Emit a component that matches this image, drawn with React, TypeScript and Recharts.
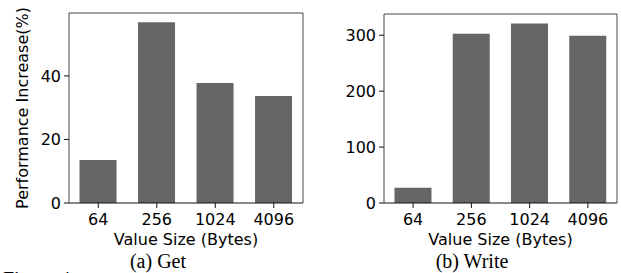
import React from 'react';
import { BarChart, Bar, XAxis, YAxis } from 'recharts';

const sizes = ['64', '256', '1024', '4096'];
const getIncrease = [13.5, 56.9, 37.8, 33.7];
const writeIncrease = [27.4, 302.9, 320.8, 299.3];
const getTicks = [0, 20, 40];
const writeTicks = [0, 100, 200, 300];

const getData = sizes.map((s, i) => ({ size: s, value: getIncrease[i] }));
const writeData = sizes.map((s, i) => ({ size: s, value: writeIncrease[i] }));

const FONT = 'DejaVu Sans, sans-serif';
const tickStyle = { fill: '#000', fontSize: 16, fontFamily: FONT };

const Panel = ({ data, ticks, domain, yWidth, margin, ylabel }: any) => (
    <BarChart width={margin.w} height={250} data={data} margin={margin.m} barCategoryGap="18%">
        <XAxis
            dataKey="size"
            height={47}
            tickSize={5}
            tickMargin={6}
            tick={tickStyle}
            axisLine={{ stroke: '#111', strokeWidth: 1 }}
            tickLine={{ stroke: '#111' }}
            label={{ value: 'Value Size (Bytes)', position: 'insideBottom', offset: 5, style: { fill: '#000', fontSize: 16, fontFamily: FONT } }}
        />
        {/* top and right spines */}
        <XAxis xAxisId="top" dataKey="size" orientation="top" height={1} tick={false} tickLine={false} axisLine={{ stroke: '#444' }} />
        <YAxis
            width={yWidth}
            domain={domain}
            ticks={ticks}
            tickSize={5}
            tickMargin={3}
            tick={tickStyle}
            axisLine={{ stroke: '#444' }}
            tickLine={{ stroke: '#111' }}
            allowDataOverflow
            label={ylabel ? { value: ylabel, angle: -90, position: 'insideLeft', offset: 22, textAnchor: 'middle', style: { textAnchor: 'middle', fill: '#000', fontSize: 16, fontFamily: FONT } } : undefined}
        />
        <YAxis yAxisId="right" orientation="right" width={1} domain={domain} tick={false} tickLine={false} axisLine={{ stroke: '#444' }} />
        <Bar dataKey="value" fill="#666666" isAnimationActive={false} />
    </BarChart>
);

const captionStyle: React.CSSProperties = {
    position: 'absolute',
    fontFamily: 'Liberation Serif, Times New Roman, serif',
    fontSize: 20,
    lineHeight: '20px',
    color: '#000',
    whiteSpace: 'nowrap',
    transform: 'translateX(-50%)',
};

export default function App() {
    return (
        <div style={{ position: 'relative', width: 621, height: 273, overflow: 'hidden', background: '#fff' }}>
            <style>{'body { margin: 0; }'}</style>
            <div style={{ position: 'absolute', left: 0, top: 0 }}>
                <Panel
                    data={getData}
                    ticks={getTicks}
                    domain={[0, 59.8]}
                    yWidth={69}
                    margin={{ w: 310, m: { top: 12, right: 6, bottom: 0, left: 0 } }}
                    ylabel="Performance Increase(%)"
                />
            </div>
            <div style={{ position: 'absolute', left: 310, top: 0 }}>
                <Panel
                    data={writeData}
                    ticks={writeTicks}
                    domain={[0, 338]}
                    yWidth={74}
                    margin={{ w: 311, m: { top: 13, right: 3, bottom: 0, left: 0 } }}
                />
            </div>
            <div style={{ ...captionStyle, left: 158, top: 251 }}>(a) Get</div>
            <div style={{ ...captionStyle, left: 472, top: 251 }}>(b) Write</div>
            <div style={{ ...captionStyle, left: 3, top: 269, transform: 'none' }}>Figure 4:</div>
        </div>
    );
}
